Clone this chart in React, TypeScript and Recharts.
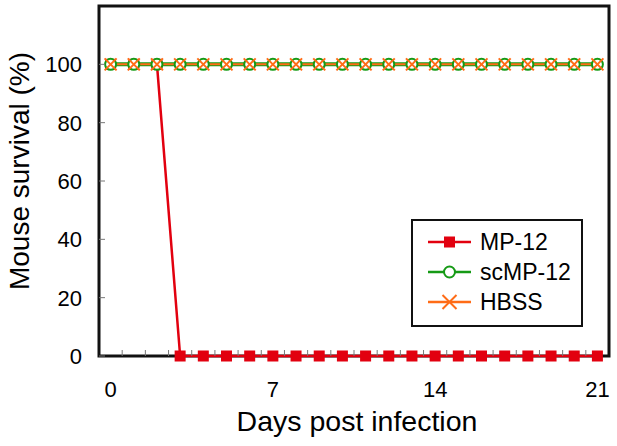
import React from 'react'
import { LineChart, Line, XAxis, YAxis, ReferenceArea, Legend } from 'recharts'

const days = [0, 1, 2, 3, 4, 5, 6, 7, 8, 9, 10, 11, 12, 13, 14, 15, 16, 17, 18, 19, 20, 21]
const mp12 = [100, 100, 100, 0, 0, 0, 0, 0, 0, 0, 0, 0, 0, 0, 0, 0, 0, 0, 0, 0, 0, 0]
const scMp12 = [100, 100, 100, 100, 100, 100, 100, 100, 100, 100, 100, 100, 100, 100, 100, 100, 100, 100, 100, 100, 100, 100]
const hbss = [100, 100, 100, 100, 100, 100, 100, 100, 100, 100, 100, 100, 100, 100, 100, 100, 100, 100, 100, 100, 100, 100]

const xLabels = [0, 7, 14, 21]
const xMinorTicks = [0.5, 1.5, 2.5, 3.5, 4.5, 5.5, 6.5, 7.5, 8.5, 9.5, 10.5, 11.5, 12.5, 13.5, 14.5, 15.5, 16.5, 17.5, 18.5, 19.5, 20.5]
const yTicks = [0, 20, 40, 60, 80, 100]

const RED = '#e2000f'
const GREEN = '#159a15'
const ORANGE = '#ff6c17'
const FONT = '"Liberation Sans", Arial, sans-serif'

const data = days.map((d, i) => ({ day: d, mp12: mp12[i], scMp12: scMp12[i], hbss: hbss[i] }))

const squareDot = (p: any) => (
  <rect key={`sq-${p.index}`} x={p.cx - 5.5} y={p.cy - 5.5} width={11} height={11} fill={RED} />
)
const circleDot = (p: any) => (
  <circle key={`ci-${p.index}`} cx={p.cx} cy={p.cy} r={5.5} fill="#fff" stroke={GREEN} strokeWidth={2} />
)
const crossDot = (p: any) => (
  <g key={`x-${p.index}`} stroke={ORANGE} strokeWidth={2}>
    <line x1={p.cx - 6} y1={p.cy - 6} x2={p.cx + 6} y2={p.cy + 6} />
    <line x1={p.cx - 6} y1={p.cy + 6} x2={p.cx + 6} y2={p.cy - 6} />
  </g>
)

const XTick = (p: any) => {
  const v = p.payload.value
  if (xLabels.includes(v)) {
    return (
      <text x={p.x} y={p.y + 41} textAnchor="middle" fontSize={22} fontFamily={FONT} fill="#000">
        {v}
      </text>
    )
  }
  return <line x1={p.x} y1={p.y} x2={p.x} y2={p.y - 6} stroke="#777" strokeWidth={1} />
}

const YTick = (p: any) => (
  <g>
    <line x1={p.x} y1={p.y} x2={p.x + 6} y2={p.y} stroke="#777" strokeWidth={1} />
    <text x={p.x - 17} y={p.y + 8} textAnchor="end" fontSize={22} fontFamily={FONT} fill="#000">
      {p.payload.value}
    </text>
  </g>
)

const series = [
  { name: 'MP-12', color: RED, kind: 'square' },
  { name: 'scMP-12', color: GREEN, kind: 'circle' },
  { name: 'HBSS', color: ORANGE, kind: 'cross' },
]

const renderLegend = () => (
  <div
    style={{
      width: 168,
      height: 98,
      border: '2px solid #111',
      background: '#fff',
      paddingTop: 6,
      boxSizing: 'content-box',
      fontFamily: FONT,
    }}
  >
    {series.map((s) => (
      <div key={s.name} style={{ height: 30, display: 'flex', alignItems: 'center' }}>
        <svg width={66} height={30}>
          <line x1={15} y1={15} x2={58} y2={15} stroke={s.color} strokeWidth={2.5} />
          {s.kind === 'square' && <rect x={31} y={9.5} width={11} height={11} fill={s.color} />}
          {s.kind === 'circle' && <circle cx={36.5} cy={15} r={5.5} fill="#fff" stroke={s.color} strokeWidth={2} />}
          {s.kind === 'cross' && (
            <g stroke={s.color} strokeWidth={2}>
              <line x1={29.5} y1={8} x2={43.5} y2={22} />
              <line x1={29.5} y1={22} x2={43.5} y2={8} />
            </g>
          )}
        </svg>
        <span style={{ fontSize: 23, color: '#000', marginLeft: 1 }}>{s.name}</span>
      </div>
    ))}
  </div>
)

export default function App() {
  return (
    <div style={{ position: 'absolute', left: 0, top: 0, width: 617, height: 446, background: '#fff' }}>
      <LineChart width={617} height={446} data={data} margin={{ top: 6, right: 8, bottom: 0, left: 0 }}>
        <XAxis
          dataKey="day"
          type="number"
          domain={[-0.5, 21.5]}
          ticks={[...xMinorTicks, ...xLabels].sort((a, b) => a - b)}
          interval={0}
          height={90}
          tickSize={0}
          tickMargin={0}
          tickLine={false}
          axisLine={false}
          tick={XTick}
          label={{
            content: () => (
              <text x={357} y={431} textAnchor="middle" fontSize={28.5} fontFamily={FONT} fill="#000">
                Days post infection
              </text>
            ),
          }}
        />
        <YAxis
          type="number"
          domain={[0, 120]}
          ticks={yTicks}
          interval={0}
          width={99}
          tickSize={0}
          tickMargin={0}
          tickLine={false}
          axisLine={false}
          tick={YTick}
          label={{
            content: () => (
              <text
                x={19}
                y={171}
                transform="rotate(-90 19 171)"
                textAnchor="middle"
                dominantBaseline="central"
                fontSize={28}
                fontFamily={FONT}
                fill="#000"
              >
                Mouse survival (%)
              </text>
            ),
          }}
        />
        <ReferenceArea x1={-0.5} x2={21.5} y1={0} y2={120} fill="none" stroke="#111" strokeWidth={3} ifOverflow="visible" />
        <Legend
          layout="vertical"
          align="center"
          verticalAlign="middle"
          content={renderLegend}
          wrapperStyle={{ position: 'absolute', left: 411, top: 219, width: 172, height: 108 }}
        />
        <Line dataKey="mp12" name="MP-12" stroke={RED} strokeWidth={2.5} dot={squareDot} isAnimationActive={false} />
        <Line dataKey="scMp12" name="scMP-12" stroke={GREEN} strokeWidth={4} dot={circleDot} isAnimationActive={false} />
        <Line dataKey="hbss" name="HBSS" stroke={ORANGE} strokeWidth={2} dot={crossDot} isAnimationActive={false} />
      </LineChart>
    </div>
  )
}
